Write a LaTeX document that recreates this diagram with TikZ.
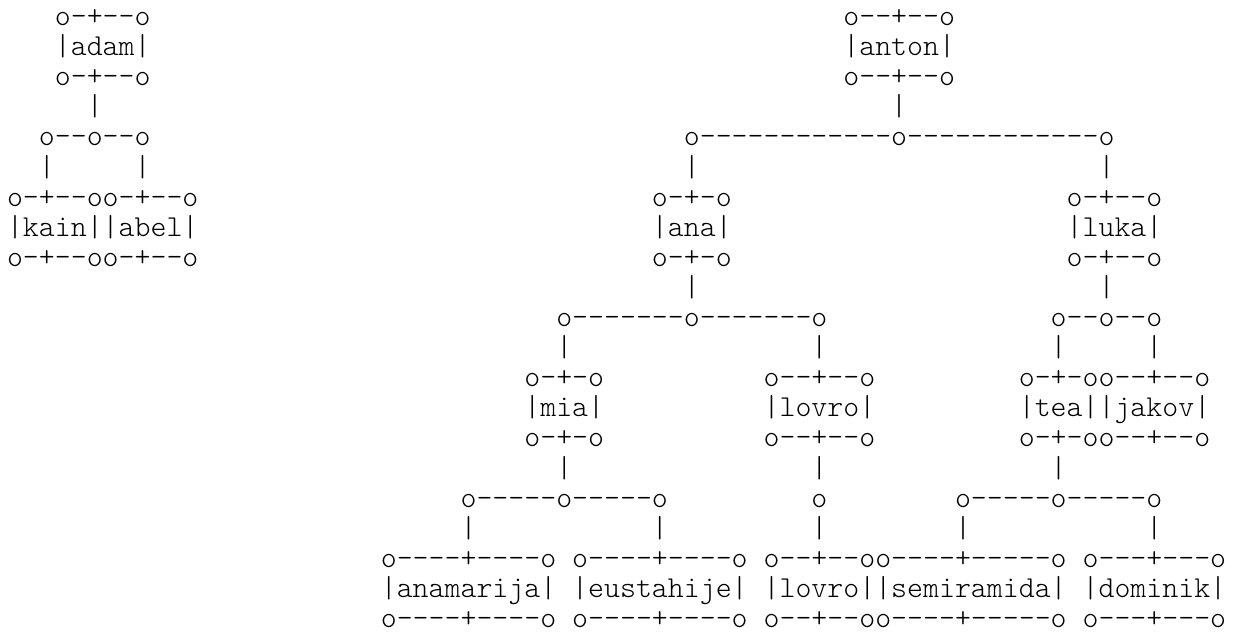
\documentclass[tikz,border=0pt]{standalone}
\usepackage{fontspec}
\setmonofont{Latin Modern Mono Light}

% One character cell: 15.95 px wide, one text row: 30.1 px high.
\tikzset{
  glyphs/.style={anchor=base west, inner sep=0pt, outer sep=0pt,
    font=\ttfamily\fontsize{15.19}{18}\selectfont, text=black}
}
% \lrow / \rrow {name}{column}{row}{characters}
\newcommand\lrow[4]{\node[glyphs] (#1) at ({15+15.95*(#2)-7.975},{25.5+30.1*(#3)}) {#4};}
\newcommand\rrow[4]{\node[glyphs] (#1) at ({6+15.95*(#2)-7.975},{25.5+30.1*(#3)}) {#4};}

\begin{document}
\begin{tikzpicture}[x=0.5pt,y=-0.5pt]
\useasboundingbox (0,0) rectangle (1235,633);

% ---- adam, kain, abel ----
\lrow{adamT}{3}{0}{o-+--o}
\lrow{adamN}{3}{1}{|adam|}
\lrow{adamB}{3}{2}{o-+--o}
\lrow{adamV}{5}{3}{|}
\lrow{adamBar}{2}{4}{o--o--o}
\lrow{kainV}{2}{5}{|}
\lrow{abelV}{8}{5}{|}
\lrow{kainabelT}{0}{6}{o-+--oo-+--o}
\lrow{kainabelN}{0}{7}{|kain||abel|}
\lrow{kainabelB}{0}{8}{o-+--oo-+--o}

% ---- anton ----
\rrow{antonT}{53}{0}{o--+--o}
\rrow{antonN}{53}{1}{|anton|}
\rrow{antonB}{53}{2}{o--+--o}
\rrow{antonV}{56}{3}{|}
\rrow{antonBar}{43}{4}{o------------o------------o}
\rrow{anaV}{43}{5}{|}
\rrow{lukaV}{69}{5}{|}

% ---- ana, luka ----
\rrow{anaT}{41}{6}{o-+-o}
\rrow{anaN}{41}{7}{|ana|}
\rrow{anaB}{41}{8}{o-+-o}
\rrow{lukaT}{67}{6}{o-+--o}
\rrow{lukaN}{67}{7}{|luka|}
\rrow{lukaB}{67}{8}{o-+--o}
\rrow{anaDown}{43}{9}{|}
\rrow{lukaDown}{69}{9}{|}
\rrow{anaBar}{35}{10}{o-------o-------o}
\rrow{lukaBar}{66}{10}{o--o--o}
\rrow{miaV}{35}{11}{|}
\rrow{lovroV}{51}{11}{|}
\rrow{teaV}{66}{11}{|}
\rrow{jakovV}{72}{11}{|}

% ---- mia, lovro, tea, jakov ----
\rrow{miaT}{33}{12}{o-+-o}
\rrow{miaN}{33}{13}{|mia|}
\rrow{miaB}{33}{14}{o-+-o}
\rrow{lovroT}{48}{12}{o--+--o}
\rrow{lovroN}{48}{13}{|lovro|}
\rrow{lovroB}{48}{14}{o--+--o}
\rrow{teajakovT}{64}{12}{o-+-oo--+--o}
\rrow{teajakovN}{64}{13}{|tea||jakov|}
\rrow{teajakovB}{64}{14}{o-+-oo--+--o}
\rrow{miaDown}{35}{15}{|}
\rrow{lovroDown}{51}{15}{|}
\rrow{teaDown}{66}{15}{|}
\rrow{miaBar}{29}{16}{o-----o-----o}
\rrow{lovroBar}{51}{16}{o}
\rrow{teaBar}{60}{16}{o-----o-----o}
\rrow{anamarijaV}{29}{17}{|}
\rrow{eustahijeV}{41}{17}{|}
\rrow{lovroKidV}{51}{17}{|}
\rrow{semiramidaV}{60}{17}{|}
\rrow{dominikV}{72}{17}{|}

% ---- bottom row ----
\rrow{anamarijaT}{24}{18}{o----+----o}
\rrow{anamarijaN}{24}{19}{|anamarija|}
\rrow{anamarijaB}{24}{20}{o----+----o}
\rrow{eustahijeT}{36}{18}{o----+----o}
\rrow{eustahijeN}{36}{19}{|eustahije|}
\rrow{eustahijeB}{36}{20}{o----+----o}
\rrow{lovrosemT}{48}{18}{o--+--oo----+-----o}
\rrow{lovrosemN}{48}{19}{|lovro||semiramida|}
\rrow{lovrosemB}{48}{20}{o--+--oo----+-----o}
\rrow{dominikT}{68}{18}{o---+---o}
\rrow{dominikN}{68}{19}{|dominik|}
\rrow{dominikB}{68}{20}{o---+---o}
\end{tikzpicture}
\end{document}
